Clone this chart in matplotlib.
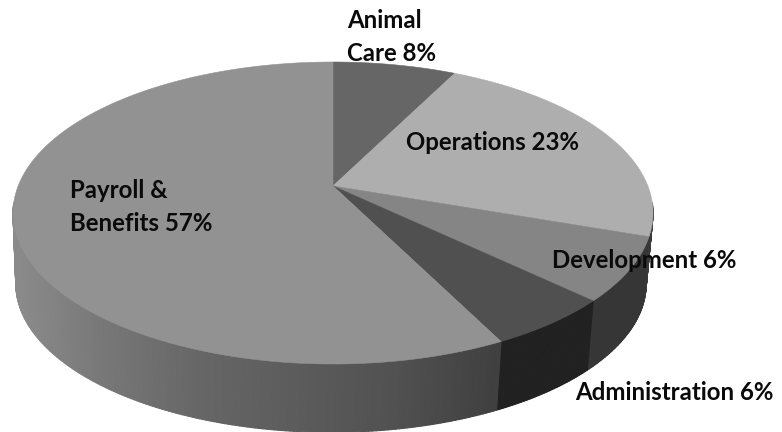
#!/usr/bin/env python3

import numpy as np
from matplotlib import pyplot as plt
from matplotlib.collections import PolyCollection
from matplotlib.patches import Polygon

labels = ['Animal\nCare 8%', 'Operations 23%', 'Development 6%', 'Administration 6%', 'Payroll &\nBenefits 57%']
# slice sizes as measured on the disc, a little off the rounded label numbers
shares = [7.4, 22.9, 6.8, 5.5, 57.4]

top_grey = ['#666666', '#aeaeae', '#858585', '#505050', '#929292']
side_grey = ['#3a3a3a', '#3a3a3a', '#363636', '#212121', None]

# where the label text starts, in pixels of the picture
label_x = [347, 406, 552, 575, 70]
label_y = [37, 143, 260, 392, 207]

# payroll side gets lighter towards the left
ramp_x = [20, 100, 200, 390, 497]
ramp_grey = [0.54, 0.47, 0.40, 0.32, 0.25]

# perspective of the disc
cx, cy = 333, 186
half_w = 320
back = 124
front = 178
k = (front - back) / (front + back)
b = back * (1 + k)
a = half_w * np.sqrt(1 - k ** 2)
drop = 71
shrink = 0.985


def project(theta):
    x = np.sin(theta)
    y = np.cos(theta)
    den = 1 + k * y
    return a * x / den, -b * y / den


plt.rcParams['font.family'] = ['Lato', 'DejaVu Sans']
fig = plt.figure(figsize=(7.82, 4.32), dpi=100)
ax = fig.add_axes([0, 0, 1, 1])
ax.set_xlim(0, 782)
ax.set_ylim(432, 0)
ax.axis('off')

edges = np.cumsum([0] + shares) / sum(shares) * 2 * np.pi

# side walls first, the top goes over them
quads = []
quad_colors = []
for i in range(len(shares)):
    t = np.linspace(edges[i], edges[i + 1], int(shares[i] * 6) + 2)
    px, py = project(t)
    for j in range(len(t) - 1):
        if np.cos(t[j]) > -0.12 and np.cos(t[j + 1]) > -0.12:
            continue
        x0, x1 = cx + px[j], cx + px[j + 1]
        y0, y1 = cy + py[j], cy + py[j + 1]
        x2, x3 = cx - 2 + shrink * px[j + 1], cx - 2 + shrink * px[j]
        y2, y3 = cy + drop + shrink * py[j + 1], cy + drop + shrink * py[j]
        quads.append([(x0, y0), (x1, y1), (x2, y2), (x3, y3)])
        if side_grey[i] is None:
            g = np.interp((x0 + x1) / 2, ramp_x, ramp_grey)
            quad_colors.append((g, g, g))
        else:
            quad_colors.append(side_grey[i])
ax.add_collection(PolyCollection(quads, facecolors=quad_colors, edgecolors=quad_colors, linewidths=0.8))

for i in range(len(shares)):
    t = np.linspace(edges[i], edges[i + 1], int(shares[i] * 6) + 2)
    px, py = project(t)
    pts = [(cx, cy)] + list(zip(cx + px, cy + py))
    ax.add_patch(Polygon(pts, closed=True, facecolor=top_grey[i], edgecolor=top_grey[i], linewidth=0.4))

for i in range(len(labels)):
    ax.text(label_x[i], label_y[i], labels[i], fontsize=17.3, fontweight='bold', color='#0a0a0a',
            ha='left', va='center', linespacing=1.5)

fig.savefig('out.png', dpi=100)
